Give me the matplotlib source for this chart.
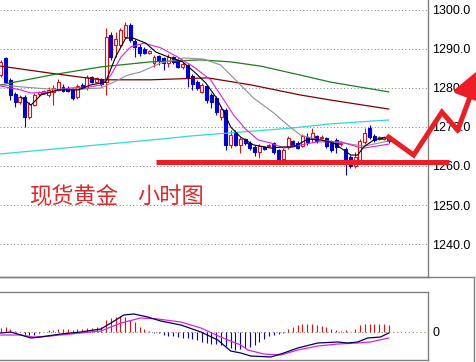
import matplotlib
matplotlib.use("Agg")
import matplotlib.pyplot as plt
from matplotlib.lines import Line2D

# 蜡烛图数据 (开, 高, 低, 收)
opens = [1283.3, 1287.7, 1282.1, 1278.5, 1276.4, 1277.7, 1272.6, 1275.6, 1278.5, 1278.7,
         1278.2, 1279.0, 1279.5, 1280.3, 1280.0, 1279.7, 1277.7, 1280.8, 1280.0, 1282.8,
         1281.5, 1282.3, 1281.5, 1293.6, 1291.0, 1291.0, 1293.1, 1296.2, 1292.0, 1290.5,
         1290.0, 1289.0, 1286.4, 1288.2, 1287.7, 1286.4, 1288.0, 1287.2, 1285.4, 1285.9,
         1283.1, 1281.5, 1279.0, 1280.5, 1278.2, 1277.4, 1272.6, 1274.4, 1265.4, 1268.7,
         1265.4, 1266.9, 1265.9, 1264.9, 1263.6, 1264.9, 1265.1, 1265.9, 1264.1, 1261.8,
         1264.9, 1266.4, 1265.9, 1265.1, 1267.4, 1267.2, 1267.7, 1267.2, 1267.2, 1265.9,
         1266.7, 1265.6, 1264.4, 1262.3, 1260.0, 1261.5, 1266.2, 1269.7, 1267.7, 1266.9,
         1266.9, 1267.4]
highs = [1287.2, 1288.0, 1282.6, 1279.0, 1278.2, 1278.2, 1276.4, 1278.7, 1279.2, 1279.5,
         1280.3, 1280.8, 1282.3, 1281.0, 1280.5, 1280.0, 1281.0, 1281.3, 1283.3, 1283.1,
         1282.8, 1282.6, 1295.4, 1294.4, 1294.4, 1295.4, 1296.9, 1296.7, 1292.6, 1291.3,
         1290.5, 1289.7, 1288.5, 1288.5, 1288.0, 1288.7, 1288.2, 1287.7, 1286.7, 1286.2,
         1283.6, 1282.1, 1281.3, 1280.8, 1278.7, 1277.9, 1275.4, 1274.9, 1269.2, 1269.2,
         1267.4, 1267.2, 1266.4, 1265.4, 1265.6, 1265.1, 1265.6, 1266.2, 1264.4, 1264.6,
         1267.7, 1266.7, 1266.4, 1268.2, 1268.5, 1269.7, 1267.9, 1267.9, 1267.4, 1266.7,
         1267.2, 1266.4, 1264.9, 1262.8, 1263.6, 1266.9, 1269.7, 1270.5, 1268.2, 1267.7,
         1267.7, 1267.9]
lows = [1282.8, 1281.3, 1276.9, 1275.1, 1275.9, 1270.0, 1272.1, 1275.4, 1277.9, 1278.5,
        1277.7, 1275.6, 1279.2, 1279.0, 1279.0, 1276.9, 1277.2, 1279.7, 1279.5, 1281.3,
        1281.3, 1280.5, 1278.2, 1287.2, 1288.0, 1290.5, 1292.8, 1291.8, 1288.0, 1288.2,
        1288.7, 1288.7, 1285.4, 1285.9, 1284.6, 1285.4, 1286.2, 1285.1, 1284.9, 1280.3,
        1279.5, 1279.5, 1278.7, 1276.2, 1274.9, 1273.1, 1271.8, 1264.1, 1264.6, 1265.1,
        1263.3, 1265.4, 1264.1, 1262.6, 1262.1, 1264.1, 1264.9, 1263.1, 1261.3, 1261.0,
        1264.4, 1265.1, 1264.4, 1264.9, 1265.4, 1266.2, 1265.9, 1266.9, 1264.6, 1263.6,
        1263.3, 1265.1, 1257.7, 1259.5, 1259.5, 1261.3, 1265.6, 1266.9, 1266.2, 1266.7,
        1266.7, 1265.9]
closes = [1286.7, 1281.5, 1278.2, 1276.4, 1277.7, 1272.6, 1275.9, 1278.2, 1279.0, 1279.2,
          1279.5, 1280.0, 1281.5, 1279.2, 1279.2, 1277.4, 1280.5, 1280.0, 1282.8, 1281.5,
          1282.6, 1281.0, 1293.1, 1288.0, 1292.6, 1294.9, 1296.2, 1292.3, 1290.5, 1289.0,
          1289.0, 1289.5, 1288.0, 1287.2, 1286.4, 1288.0, 1286.7, 1285.4, 1286.2, 1282.6,
          1281.0, 1280.0, 1280.8, 1276.9, 1276.4, 1273.8, 1274.6, 1265.4, 1267.9, 1265.4,
          1266.9, 1265.9, 1264.6, 1263.6, 1265.1, 1264.4, 1265.4, 1263.6, 1261.8, 1264.1,
          1267.2, 1265.4, 1264.6, 1267.7, 1266.2, 1268.5, 1266.4, 1267.4, 1265.1, 1264.1,
          1264.9, 1265.9, 1260.5, 1260.0, 1262.3, 1266.4, 1268.5, 1267.4, 1266.7, 1267.4,
          1267.4, 1266.4]

# 均线 (按K线序号读取的点)
ma5_x = [4.2, 6.3, 8.4, 11.9, 16.1, 18.8, 21.9, 24.0, 26.1, 27.6, 30.3, 32.4, 35.1, 38.0,
         40.7, 42.8, 44.9, 46.6, 48.0, 50.1, 52.8, 56.4, 59.1, 61.2, 64.1, 66.8, 69.5,
         71.6, 73.1, 74.5, 75.8, 77.9, 80.0, 81.0]
ma5_y = [1277.7, 1275.6, 1278.2, 1279.5, 1279.5, 1280.8, 1281.5, 1288.0, 1292.8, 1292.8,
         1291.5, 1289.2, 1287.9, 1286.7, 1283.8, 1281.3, 1277.7, 1273.8, 1270.0, 1267.4,
         1265.4, 1264.6, 1264.9, 1264.9, 1266.9, 1266.7, 1265.9, 1264.1, 1262.8, 1262.8,
         1264.9, 1266.7, 1267.2, 1267.2]
ma10_x = [0, 4.2, 6.3, 10.4, 14.6, 18.8, 20.9, 23.0, 25.1, 27.1, 29.9, 33.4, 37.0, 40.3,
          43.8, 46.6, 48.6, 51.1, 53.7, 56.4, 59.1, 62.6, 66.2, 71.0, 74.5, 75.8, 81.0]
ma10_y = [1280.5, 1279.5, 1278.7, 1279.0, 1280.0, 1280.3, 1280.8, 1283.3, 1287.9, 1290.5,
          1291.5, 1290.3, 1287.9, 1285.4, 1282.1, 1276.9, 1273.1, 1269.5, 1266.7, 1265.9,
          1264.6, 1265.4, 1266.2, 1266.2, 1264.9, 1264.6, 1265.6]
ma20_x = [0, 4.2, 10.4, 16.7, 20.9, 23.6, 26.5, 29.2, 33.4, 38.2, 42.4, 45.9, 48.6, 52.8,
          57.0, 59.9, 62.6, 66.4, 71.4, 75.8, 81.0]
ma20_y = [1280.8, 1280.3, 1279.7, 1279.7, 1280.0, 1281.5, 1283.3, 1284.1, 1286.4, 1287.7,
          1287.4, 1285.9, 1282.6, 1277.4, 1273.6, 1270.5, 1267.9, 1266.7, 1265.9, 1265.1,
          1266.4]
ma60_x = [0, 10.4, 20.9, 31.3, 41.8, 48.0, 54.3, 62.6, 68.9, 81.0]
ma60_y = [1280.8, 1283.3, 1285.4, 1286.7, 1287.2, 1286.7, 1285.6, 1283.3, 1281.5, 1279.0]
ma120_x = [0, 10.4, 20.9, 31.3, 43.2, 52.2, 62.6, 68.9, 81.0]
ma120_y = [1285.6, 1283.8, 1282.1, 1282.1, 1282.6, 1280.8, 1278.2, 1276.9, 1274.6]
ma240_x = [0, 33.4, 39.7, 60.5, 68.9, 81.0]
ma240_y = [1263.1, 1266.9, 1267.7, 1269.7, 1270.8, 1271.8]

# MACD
macd_hist = [0.4, 0.5, 0.3, 0.1, 0.05, -0.15, -0.3, -0.3, -0.1, 0.05,
             0.2, 0.2, 0.3, 0.3, 0.3, 0.2, 0.3, 0.3, 0.4, 0.4,
             0.5, 0.5, 1.2, 1.4, 1.5, 1.6, 1.5, 1.2, 1.0, 0.5,
             0.3, 0.1, -0.05, -0.1, -0.3, -0.4, -0.4, -0.5, -0.6, -0.6,
             -0.7, -0.8, -1.0, -1.1, -1.2, -1.2, -1.3, -1.4, -1.6, -1.8,
             -1.7, -1.6, -1.5, -1.3, -1.0, -0.7, -0.4, -0.3, -0.2, -0.05,
             0.3, 0.5, 0.7, 0.8, 0.8, 0.8, 0.7, 0.6, 0.5, 0.3,
             0.2, 0.1, 0.2, 0.05, 0.3, 0.7, 0.8, 0.8, 0.8, 0.8,
             0.8, 0.7]
dif_x = [0, 2.1, 4.2, 6.3, 8.4, 12.5, 16.7, 20.9, 23.0, 25.7, 27.8, 30.7, 33.4, 37.6,
         41.8, 45.3, 48.0, 50.1, 52.2, 56.4, 59.1, 62.0, 66.2, 70.4, 72.4, 74.5, 76.6,
         79.3, 81.0]
dif_y = [-0.1, 0.0, -0.3, -0.6, -0.5, -0.2, 0.0, 0.3, 0.9, 1.7, 1.8, 1.5, 1.1, 0.7,
         0.0, -0.8, -1.9, -2.1, -2.4, -2.5, -2.1, -1.6, -1.1, -1.0, -1.1, -1.0, -0.6,
         -0.5, -0.1]
dea_x = [0, 4.2, 6.9, 10.4, 16.7, 20.9, 25.1, 29.2, 32.8, 37.6, 41.8, 45.9, 50.1, 51.6,
         54.9, 58.5, 62.0, 66.2, 70.4, 74.5, 77.2, 81.0]
dea_y = [-0.3, -0.3, -0.5, -0.4, -0.1, 0.1, 0.9, 1.4, 1.3, 1.0, 0.4, -0.5, -1.3, -1.8,
         -2.2, -2.3, -1.8, -1.4, -1.2, -1.1, -1.0, -0.6]

price_ticks = [1240, 1250, 1260, 1270, 1280, 1290, 1300]
support_price = 1260.9
support_span = [32.4, 93.5]
arrow_x = [81.0, 86.2, 92.1, 95.4]
arrow_y = [1267.4, 1262.8, 1273.8, 1269.2]
arrow_tip = (100.2, 1285.1)
title_left = "现货黄金"
title_right = "小时图"

RED = "#e01010"
BLUE = "#0000e0"
GRAY = "#808080"

fig = plt.figure(figsize=(4.76, 3.62), dpi=100)
ax = fig.add_axes([0, 1 - 277 / 362, 428 / 476, 277 / 362])
ax2 = fig.add_axes([0, 2 / 362, 428 / 476, 68 / 362])

n = len(opens)
xs = list(range(n))
xlim = (-0.15, 89.2)

# K线
up = [c >= o for o, c in zip(opens, closes)]
cols = [RED if u else BLUE for u in up]
ax.vlines(xs, lows, highs, colors=cols, lw=0.8, zorder=2)
bottoms = [min(o, c) for o, c in zip(opens, closes)]
heights = [max(abs(c - o), 0.15) for o, c in zip(opens, closes)]
ax.bar(xs, heights, bottom=bottoms, width=0.62,
       color=["white" if u else BLUE for u in up], edgecolor=cols, lw=0.8, zorder=3)

# 均线
ax.plot(ma240_x, ma240_y, color="#30d8d8", lw=0.9, zorder=4)
ax.plot(ma120_x, ma120_y, color="#800000", lw=0.9, zorder=4)
ax.plot(ma60_x, ma60_y, color="#1f7f1f", lw=0.9, zorder=4)
ax.plot(ma20_x, ma20_y, color="#909090", lw=0.8, zorder=4)
ax.plot(ma10_x, ma10_y, color="#e020e0", lw=0.8, zorder=4)
ax.plot(ma5_x, ma5_y, color="black", lw=0.8, zorder=4)

# 网格和坐标
ax.set_xlim(*xlim)
ax.set_ylim(1231.54, 1302.56)
for p in price_ticks:
    ax.axhline(p, color=GRAY, lw=0.7, ls=(0, (1, 2.5)), zorder=1)
ax.yaxis.tick_right()
ax.set_yticks(price_ticks)
ax.set_yticklabels([f"{p:.1f}" for p in price_ticks], family="Liberation Sans", fontsize=9)
ax.tick_params(axis="y", length=0, pad=3)
ax.set_xticks([])
for s in ["left", "top"]:
    ax.spines[s].set_visible(False)
for s in ["right", "bottom"]:
    ax.spines[s].set_color(GRAY)
    ax.spines[s].set_linewidth(1)

# 支撑线和箭头
ax.plot(support_span, [support_price] * 2, color="#ee1c24", lw=3.6,
        solid_capstyle="butt", zorder=6, clip_on=False)
ax.plot(arrow_x, arrow_y, color="#ee1c24", lw=3.6, solid_joinstyle="miter",
        zorder=6, clip_on=False)
ax.annotate("", xy=arrow_tip, xytext=(arrow_x[-1], arrow_y[-1]),
            arrowprops=dict(arrowstyle="-|>,head_length=1.2,head_width=0.7",
                            lw=3.6, color="#ee1c24", mutation_scale=15,
                            shrinkA=0, shrinkB=0),
            annotation_clip=False, zorder=6)

ax.text(5.85, 1252.1, title_left, fontsize=16, color="#e02828", va="center", ha="left",
        family=["Noto Sans CJK SC", "DejaVu Sans"])
ax.text(28.6, 1252.1, title_right, fontsize=16, color="#e02828", va="center", ha="left",
        family=["Noto Sans CJK SC", "DejaVu Sans"])

# MACD
ax2.set_xlim(*xlim)
ax2.set_ylim(-2.8, 4.0)
ax2.vlines(xs, 0, macd_hist, colors=[RED if v > 0 else BLUE for v in macd_hist], lw=0.8)
ax2.axhline(0, color="#a08060", lw=0.8, ls=(0, (1, 2.5)), zorder=1)
ax2.plot(dea_x, dea_y, color="#e020e0", lw=0.9)
ax2.plot(dif_x, dif_y, color="#000060", lw=0.9)
ax2.yaxis.tick_right()
ax2.set_yticks([0])
ax2.set_yticklabels(["0"], family="Liberation Sans", fontsize=9)
ax2.tick_params(axis="y", length=0, pad=3)
ax2.set_xticks([])
ax2.spines["left"].set_visible(False)
for s in ["right", "bottom", "top"]:
    ax2.spines[s].set_color(GRAY)
    ax2.spines[s].set_linewidth(1)

# 窗口边框
fig.add_artist(Line2D([0, 474 / 476], [1 - 277 / 362] * 2, color=GRAY, lw=1))
fig.add_artist(Line2D([474 / 476] * 2, [0, 1 - 277 / 362], color=GRAY, lw=1))

fig.savefig("out.png", dpi=100)
